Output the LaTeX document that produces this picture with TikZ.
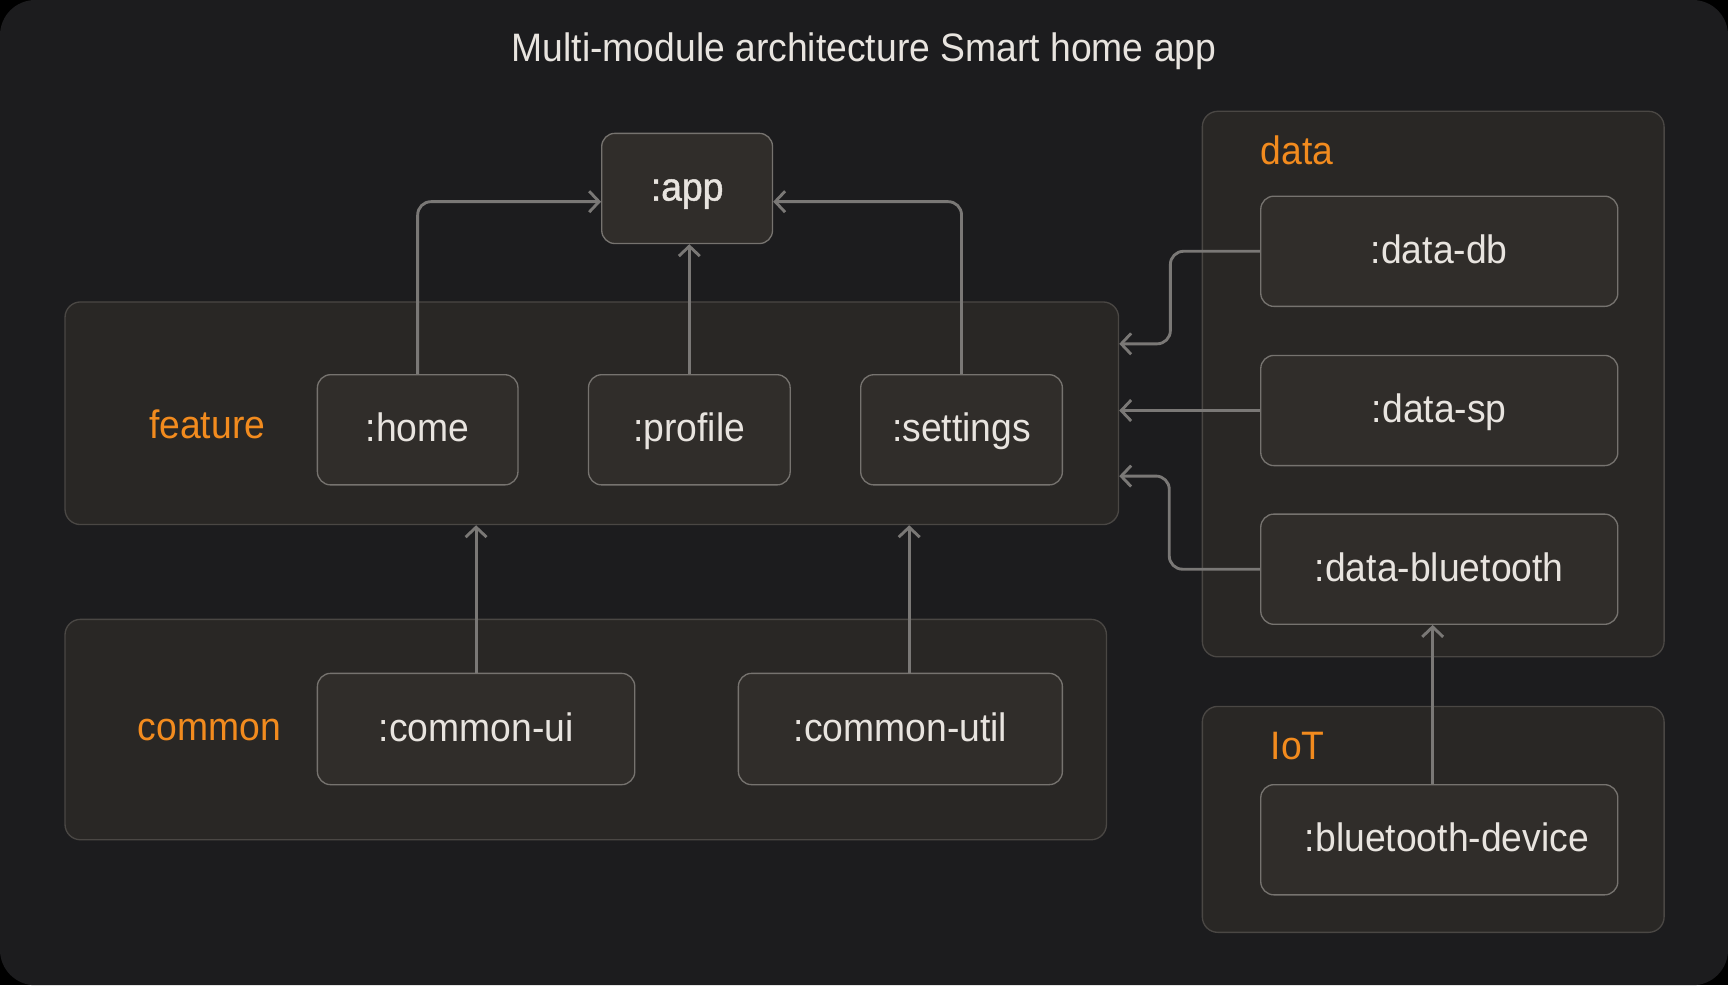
\documentclass[tikz,border=0pt]{standalone}
\usepackage{fontspec}
\setmainfont[FakeStretch=0.94]{Liberation Sans}
\usepackage{tikz}
\usetikzlibrary{positioning,arrows.meta,calc}
\definecolor{bgdark}{HTML}{1C1C1E}
\definecolor{grpfill}{HTML}{292725}
\definecolor{grpline}{HTML}{4A4744}
\definecolor{modfill}{HTML}{302D2A}
\definecolor{modline}{HTML}{76736F}
\definecolor{arrowgray}{HTML}{7A7876}
\definecolor{txtlight}{HTML}{E8E4DF}
\definecolor{orng}{HTML}{F28B1E}
\tikzset{>={Straight Barb[length=9pt,width=19pt]}}
\tikzset{
  mod/.style={draw=modline, fill=modfill, line width=1.2pt, rounded corners=12pt,
    text=txtlight, font=\fontsize{36}{42}\selectfont, minimum height=100pt, inner sep=0,
    text height=26pt, text depth=4pt},
  grp/.style={draw=grpline, fill=grpfill, line width=1.2pt, rounded corners=14pt, inner sep=0},
  grplabel/.style={text=orng, font=\fontsize{36}{42}\selectfont, inner sep=0,
    text height=26pt, text depth=4pt},
  dep/.style={->, draw=arrowgray, line width=2.6pt, rounded corners=12pt}
}
\newcommand{\drawmod}{\node[mod]}
\newcommand{\drawgrp}{\node[grp]}
\newcommand{\drawlbl}{\node[grplabel]}

\begin{document}
\begin{tikzpicture}[x=1pt,y=-1pt]

	\useasboundingbox (0,0) rectangle (1568,894);
	\fill[black] (0,0) rectangle (1568,894);
	\fill[bgdark, rounded corners=32pt] (0,0) rectangle (1568,894);

	\node[text=txtlight, font=\fontsize{36}{42}\selectfont, text height=26pt, text depth=4pt] (title) at (784,45) {Multi-module architecture Smart home app};

	% groups
	\drawgrp[minimum width=956pt, minimum height=202pt] (feature) at (537,375) {};
	\drawgrp[minimum width=945pt, minimum height=200pt] (common) at (531.5,662) {};
	\drawgrp[minimum width=419pt, minimum height=495pt] (data) at (1300.5,348.5) {};
	\drawgrp[minimum width=419pt, minimum height=205pt] (iot) at (1300.5,743.5) {};

	\drawlbl (lfeature) at (188,387) {feature};
	\drawlbl (lcommon) at (190,661) {common};
	\drawlbl[anchor=west] (ldata) at (1144,138) {data};
	\drawlbl[anchor=west] (liot) at (1153,678) {IoT};

	% modules
	\drawmod[minimum width=155pt, font=\fontsize{36}{42}\selectfont\addfontfeatures{FakeBold=1.2}] (app) at (623.5,171) {:app};
	\drawmod[minimum width=182pt] (home) at (379,390) {:home};
	\drawmod[minimum width=183pt] (profile) at (625.5,390) {:profile};
	\drawmod[minimum width=183pt] (settings) at (872.5,390) {:settings};
	\drawmod[minimum width=288pt, minimum height=101pt] (cui) at (432,661.5) {:common-ui};
	\drawmod[minimum width=294pt, minimum height=101pt] (cutil) at (817,661.5) {:common-util};
	\drawmod[minimum width=324pt] (db) at (1306,228) {:data-db};
	\drawmod[minimum width=324pt] (sp) at (1306,372.5) {:data-sp};
	\drawmod[minimum width=324pt] (bt) at (1306,516.5) {:data-bluetooth};
	\drawmod[minimum width=324pt] (dev) at (1306,762) {\hspace{14pt}:bluetooth-device};

	% bends
	\coordinate (ain) at (0,183);
	\coordinate (k1) at (1062,312);
	\coordinate (k3) at (1061,432);
	\coordinate (cutop) at ([xshift=8pt]cutil.north);
	\coordinate (devtop) at ([xshift=-6pt]dev.north);

	% dependencies
	\draw[dep] (home.north) |- (app.west |- ain);
	\draw[dep] (profile.north) -- (app.south -| profile.north);
	\draw[dep] (settings.north) |- (app.east |- ain);
	\draw[dep] (db.west) -| (k1) -- (feature.east |- k1);
	\draw[dep] (sp.west) -- (feature.east |- sp.west);
	\draw[dep] (bt.west) -| (k3) -- (feature.east |- k3);
	\draw[dep] (cui.north) -- (feature.south -| cui.north);
	\draw[dep] (cutop) -- (feature.south -| cutop);
	\draw[dep] (devtop) -- (bt.south -| devtop);

\end{tikzpicture}
\end{document}
